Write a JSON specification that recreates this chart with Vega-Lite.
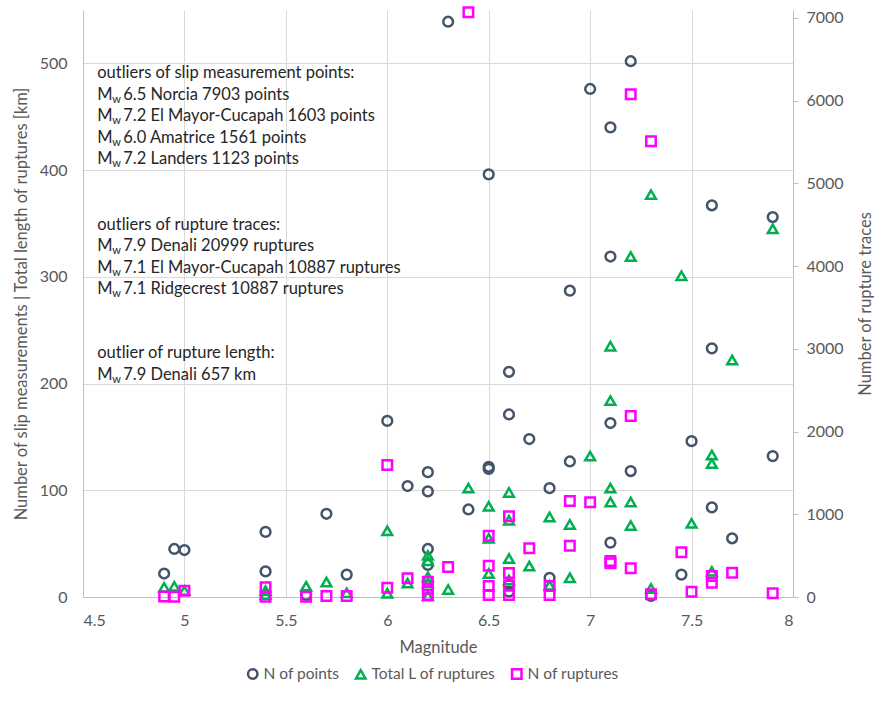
{
  "$schema": "https://vega.github.io/schema/vega-lite/v6.json",
  "width": 710,
  "height": 587,
  "autosize": "none",
  "padding": {"left": 83, "top": 10, "right": 81, "bottom": 113},
  "background": "white",
  "config": {
    "font": "Lato",
    "view": {"stroke": null},
    "axis": {"labelFont": "Lato", "titleFont": "Lato", "labelFontSize": 16, "titleFontSize": 16.5, "labelColor": "#595959", "titleColor": "#595959", "titleFontWeight": "normal", "domainColor": "#BFBFBF", "tickColor": "#BFBFBF", "gridColor": "#D9D9D9"},
    "legend": {"labelFont": "Lato", "labelFontSize": 15.5, "labelColor": "#595959"}
  },
  "datasets": {
    "pts": [
      {"m": 4.9, "v": 22, "s": "N of points"}, {"m": 4.95, "v": 45, "s": "N of points"}, {"m": 5.0, "v": 44, "s": "N of points"},
      {"m": 5.4, "v": 61, "s": "N of points"}, {"m": 5.4, "v": 24, "s": "N of points"}, {"m": 5.6, "v": 2, "s": "N of points"},
      {"m": 5.7, "v": 78, "s": "N of points"}, {"m": 5.8, "v": 21, "s": "N of points"}, {"m": 6.0, "v": 165, "s": "N of points"},
      {"m": 6.1, "v": 104, "s": "N of points"}, {"m": 6.2, "v": 117, "s": "N of points"}, {"m": 6.2, "v": 99, "s": "N of points"},
      {"m": 6.2, "v": 45, "s": "N of points"}, {"m": 6.2, "v": 30, "s": "N of points"}, {"m": 6.3, "v": 539, "s": "N of points"},
      {"m": 6.4, "v": 82, "s": "N of points"}, {"m": 6.5, "v": 396, "s": "N of points"}, {"m": 6.5, "v": 122, "s": "N of points"},
      {"m": 6.5, "v": 120, "s": "N of points"}, {"m": 6.6, "v": 211, "s": "N of points"}, {"m": 6.6, "v": 171, "s": "N of points"},
      {"m": 6.6, "v": 12, "s": "N of points"}, {"m": 6.6, "v": 5, "s": "N of points"}, {"m": 6.7, "v": 148, "s": "N of points"},
      {"m": 6.8, "v": 102, "s": "N of points"}, {"m": 6.8, "v": 18, "s": "N of points"}, {"m": 6.9, "v": 287, "s": "N of points"},
      {"m": 6.9, "v": 127, "s": "N of points"}, {"m": 7.0, "v": 476, "s": "N of points"}, {"m": 7.1, "v": 440, "s": "N of points"},
      {"m": 7.1, "v": 319, "s": "N of points"}, {"m": 7.1, "v": 163, "s": "N of points"}, {"m": 7.1, "v": 51, "s": "N of points"},
      {"m": 7.2, "v": 502, "s": "N of points"}, {"m": 7.2, "v": 118, "s": "N of points"}, {"m": 7.3, "v": 1, "s": "N of points"},
      {"m": 7.45, "v": 21, "s": "N of points"}, {"m": 7.5, "v": 146, "s": "N of points"}, {"m": 7.6, "v": 367, "s": "N of points"},
      {"m": 7.6, "v": 233, "s": "N of points"}, {"m": 7.6, "v": 84, "s": "N of points"}, {"m": 7.7, "v": 55, "s": "N of points"},
      {"m": 7.9, "v": 356, "s": "N of points"}, {"m": 7.9, "v": 132, "s": "N of points"},
      {"m": 4.9, "v": 9, "s": "Total L of ruptures"}, {"m": 4.95, "v": 10, "s": "Total L of ruptures"}, {"m": 5.0, "v": 6, "s": "Total L of ruptures"},
      {"m": 5.4, "v": 6, "s": "Total L of ruptures"}, {"m": 5.4, "v": 2, "s": "Total L of ruptures"}, {"m": 5.6, "v": 10, "s": "Total L of ruptures"},
      {"m": 5.7, "v": 14, "s": "Total L of ruptures"}, {"m": 5.8, "v": 4, "s": "Total L of ruptures"}, {"m": 6.0, "v": 62, "s": "Total L of ruptures"},
      {"m": 6.0, "v": 3.5, "s": "Total L of ruptures"}, {"m": 6.1, "v": 13, "s": "Total L of ruptures"}, {"m": 6.2, "v": 39, "s": "Total L of ruptures"},
      {"m": 6.2, "v": 34, "s": "Total L of ruptures"}, {"m": 6.2, "v": 19, "s": "Total L of ruptures"}, {"m": 6.2, "v": 13, "s": "Total L of ruptures"},
      {"m": 6.2, "v": 1, "s": "Total L of ruptures"}, {"m": 6.3, "v": 7, "s": "Total L of ruptures"}, {"m": 6.4, "v": 102, "s": "Total L of ruptures"},
      {"m": 6.5, "v": 85, "s": "Total L of ruptures"}, {"m": 6.5, "v": 55, "s": "Total L of ruptures"}, {"m": 6.5, "v": 22, "s": "Total L of ruptures"},
      {"m": 6.6, "v": 98, "s": "Total L of ruptures"}, {"m": 6.6, "v": 72, "s": "Total L of ruptures"}, {"m": 6.6, "v": 36, "s": "Total L of ruptures"},
      {"m": 6.6, "v": 16, "s": "Total L of ruptures"}, {"m": 6.7, "v": 29, "s": "Total L of ruptures"}, {"m": 6.8, "v": 75, "s": "Total L of ruptures"},
      {"m": 6.8, "v": 11, "s": "Total L of ruptures"}, {"m": 6.9, "v": 68, "s": "Total L of ruptures"}, {"m": 6.9, "v": 18, "s": "Total L of ruptures"},
      {"m": 7.0, "v": 132, "s": "Total L of ruptures"}, {"m": 7.1, "v": 235, "s": "Total L of ruptures"}, {"m": 7.1, "v": 184, "s": "Total L of ruptures"},
      {"m": 7.1, "v": 102, "s": "Total L of ruptures"}, {"m": 7.1, "v": 89, "s": "Total L of ruptures"}, {"m": 7.2, "v": 319, "s": "Total L of ruptures"},
      {"m": 7.2, "v": 89, "s": "Total L of ruptures"}, {"m": 7.2, "v": 67, "s": "Total L of ruptures"}, {"m": 7.3, "v": 377, "s": "Total L of ruptures"},
      {"m": 7.3, "v": 8, "s": "Total L of ruptures"}, {"m": 7.45, "v": 301, "s": "Total L of ruptures"}, {"m": 7.5, "v": 69, "s": "Total L of ruptures"},
      {"m": 7.6, "v": 133, "s": "Total L of ruptures"}, {"m": 7.6, "v": 125, "s": "Total L of ruptures"}, {"m": 7.6, "v": 24, "s": "Total L of ruptures"},
      {"m": 7.7, "v": 222, "s": "Total L of ruptures"}, {"m": 7.9, "v": 345, "s": "Total L of ruptures"}
    ],
    "rup": [
      {"m": 4.9, "v": 5, "s": "N of ruptures"}, {"m": 4.95, "v": 2, "s": "N of ruptures"}, {"m": 5.0, "v": 76, "s": "N of ruptures"},
      {"m": 5.4, "v": 117, "s": "N of ruptures"}, {"m": 5.4, "v": 4, "s": "N of ruptures"}, {"m": 5.6, "v": 4, "s": "N of ruptures"},
      {"m": 5.7, "v": 12, "s": "N of ruptures"}, {"m": 5.8, "v": 12, "s": "N of ruptures"}, {"m": 6.0, "v": 1595, "s": "N of ruptures"},
      {"m": 6.0, "v": 113, "s": "N of ruptures"}, {"m": 6.1, "v": 226, "s": "N of ruptures"}, {"m": 6.2, "v": 185, "s": "N of ruptures"},
      {"m": 6.2, "v": 100, "s": "N of ruptures"}, {"m": 6.2, "v": 24, "s": "N of ruptures"}, {"m": 6.3, "v": 362, "s": "N of ruptures"},
      {"m": 6.4, "v": 7066, "s": "N of ruptures"}, {"m": 6.5, "v": 741, "s": "N of ruptures"}, {"m": 6.5, "v": 378, "s": "N of ruptures"},
      {"m": 6.5, "v": 133, "s": "N of ruptures"}, {"m": 6.5, "v": 24, "s": "N of ruptures"}, {"m": 6.6, "v": 975, "s": "N of ruptures"},
      {"m": 6.6, "v": 290, "s": "N of ruptures"}, {"m": 6.6, "v": 140, "s": "N of ruptures"}, {"m": 6.6, "v": 24, "s": "N of ruptures"},
      {"m": 6.7, "v": 588, "s": "N of ruptures"}, {"m": 6.8, "v": 133, "s": "N of ruptures"}, {"m": 6.8, "v": 24, "s": "N of ruptures"},
      {"m": 6.9, "v": 1160, "s": "N of ruptures"}, {"m": 6.9, "v": 620, "s": "N of ruptures"}, {"m": 7.0, "v": 1144, "s": "N of ruptures"},
      {"m": 7.1, "v": 435, "s": "N of ruptures"}, {"m": 7.1, "v": 407, "s": "N of ruptures"}, {"m": 7.2, "v": 6075, "s": "N of ruptures"},
      {"m": 7.2, "v": 2187, "s": "N of ruptures"}, {"m": 7.2, "v": 347, "s": "N of ruptures"}, {"m": 7.3, "v": 5507, "s": "N of ruptures"},
      {"m": 7.3, "v": 32, "s": "N of ruptures"}, {"m": 7.45, "v": 540, "s": "N of ruptures"}, {"m": 7.5, "v": 64, "s": "N of ruptures"},
      {"m": 7.6, "v": 254, "s": "N of ruptures"}, {"m": 7.6, "v": 173, "s": "N of ruptures"}, {"m": 7.7, "v": 294, "s": "N of ruptures"},
      {"m": 7.9, "v": 45, "s": "N of ruptures"}
    ],
    "notes": [
      {"x": 4.57, "y": 491, "k": "h", "t": "outliers of slip measurement points:"},
      {"x": 4.57, "y": 470.8, "k": "m", "t": "6.5 Norcia 7903 points"},
      {"x": 4.57, "y": 450.7, "k": "m", "t": "7.2 El Mayor-Cucapah 1603 points"},
      {"x": 4.57, "y": 430.5, "k": "m", "t": "6.0 Amatrice 1561 points"},
      {"x": 4.57, "y": 410.4, "k": "m", "t": "7.2 Landers 1123 points"},
      {"x": 4.57, "y": 349, "k": "h", "t": "outliers of rupture traces:"},
      {"x": 4.57, "y": 328.9, "k": "m", "t": "7.9 Denali 20999 ruptures"},
      {"x": 4.57, "y": 308.7, "k": "m", "t": "7.1 El Mayor-Cucapah 10887 ruptures"},
      {"x": 4.57, "y": 288.6, "k": "m", "t": "7.1 Ridgecrest 10887 ruptures"},
      {"x": 4.57, "y": 228.4, "k": "h", "t": "outlier of rupture length:"},
      {"x": 4.57, "y": 208.0, "k": "m", "t": "7.9 Denali 657 km"}
    ]
  },
  "encoding": {
    "x": {"field": "m", "type": "quantitative", "scale": {"domain": [4.5, 8], "nice": false, "zero": false},
      "axis": {"values": [4.5, 5, 5.5, 6, 6.5, 7, 7.5, 8], "labelExpr": "'' + datum.value", "grid": true, "ticks": false, "labelPadding": 15, "title": "Magnitude", "titlePadding": 11}}
  },
  "layer": [
    {
      "data": {"name": "pts"},
      "mark": {"type": "point", "filled": false, "strokeWidth": 2.5, "size": 95, "opacity": 1},
      "encoding": {
        "y": {"field": "v", "type": "quantitative", "scale": {"domain": [0, 550], "nice": false},
          "axis": {"orient": "left", "values": [0, 100, 200, 300, 400, 500], "grid": true, "ticks": false, "labelPadding": 16, "title": "Number of slip measurements | Total length of ruptures [km]", "titlePadding": 10}},
        "color": {"field": "s", "type": "nominal", "scale": {"domain": ["N of points", "Total L of ruptures", "N of ruptures"], "range": ["#44546A", "#00B050", "#FF00FF"]},
          "legend": {"title": null, "orient": "none", "legendX": 162, "legendY": 656, "direction": "horizontal", "symbolStrokeWidth": 2.5, "symbolSize": 90, "columnPadding": 11, "labelOffset": 3}},
        "shape": {"field": "s", "type": "nominal", "scale": {"domain": ["N of points", "Total L of ruptures", "N of ruptures"], "range": ["circle", "triangle-up", "square"]}, "legend": {"title": null}}
      }
    },
    {
      "data": {"name": "rup"},
      "mark": {"type": "point", "filled": false, "strokeWidth": 2.5, "size": 90, "opacity": 1},
      "encoding": {
        "y": {"field": "v", "type": "quantitative", "scale": {"domain": [0, 7094], "nice": false},
          "axis": {"orient": "right", "values": [0, 1000, 2000, 3000, 4000, 5000, 6000, 7000], "format": "d", "grid": false, "ticks": true, "tickSize": 5, "labelPadding": 8, "title": "Number of rupture traces", "titleAngle": 270, "titlePadding": 30}},
        "color": {"field": "s", "type": "nominal"},
        "shape": {"field": "s", "type": "nominal"}
      }
    },
    {
      "data": {"name": "notes"},
      "transform": [{"filter": "datum.k === 'h'"}],
      "mark": {"type": "text", "align": "left", "baseline": "middle", "fontSize": 16.5, "color": "#262626"},
      "encoding": {"x": {"field": "x", "type": "quantitative"}, "y": {"field": "y", "type": "quantitative", "scale": {"domain": [0, 550], "nice": false}, "axis": null}, "text": {"field": "t"}}
    },
    {
      "data": {"name": "notes"},
      "transform": [{"filter": "datum.k === 'm'"}],
      "mark": {"type": "text", "align": "left", "baseline": "middle", "fontSize": 16.5, "color": "#262626", "text": "M"},
      "encoding": {"x": {"field": "x", "type": "quantitative"}, "y": {"field": "y", "type": "quantitative", "scale": {"domain": [0, 550], "nice": false}, "axis": null}}
    },
    {
      "data": {"name": "notes"},
      "transform": [{"filter": "datum.k === 'm'"}],
      "mark": {"type": "text", "align": "left", "baseline": "middle", "fontSize": 11, "dx": 15, "dy": 5, "color": "#262626", "text": "w"},
      "encoding": {"x": {"field": "x", "type": "quantitative"}, "y": {"field": "y", "type": "quantitative", "scale": {"domain": [0, 550], "nice": false}, "axis": null}}
    },
    {
      "data": {"name": "notes"},
      "transform": [{"filter": "datum.k === 'm'"}],
      "mark": {"type": "text", "align": "left", "baseline": "middle", "fontSize": 16.5, "dx": 26, "color": "#262626"},
      "encoding": {"x": {"field": "x", "type": "quantitative"}, "y": {"field": "y", "type": "quantitative", "scale": {"domain": [0, 550], "nice": false}, "axis": null}, "text": {"field": "t"}}
    }
  ],
  "resolve": {"scale": {"y": "independent"}}
}
